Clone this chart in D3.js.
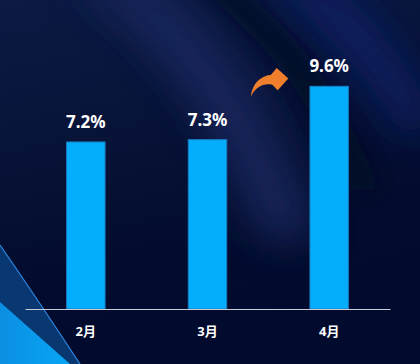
<!DOCTYPE html>
<html><head><meta charset="utf-8">
<script src="https://cdn.jsdelivr.net/npm/d3@7"></script>
<style>html,body{margin:0;padding:0;background:#040c2c;}svg{display:block;}</style>
</head><body><div id="chart"></div>
<script>
const categories = ["2月", "3月", "4月"];
const values = [7.2, 7.3, 9.6];
const valueLabels = ["7.2%", "7.3%", "9.6%"];

const W = 420, H = 364;
const svg = d3.select("#chart").append("svg").attr("width", W).attr("height", H);
const defs = svg.append("defs");

// background
const bg = defs.append("linearGradient").attr("id","bg").attr("x1","0").attr("y1","0").attr("x2","0.25").attr("y2","1");
bg.append("stop").attr("offset","0").attr("stop-color","#0c1a44");
bg.append("stop").attr("offset","0.45").attr("stop-color","#071236");
bg.append("stop").attr("offset","0.75").attr("stop-color","#030c2e");
bg.append("stop").attr("offset","1").attr("stop-color","#020b2d");
svg.append("rect").attr("width",W).attr("height",H).attr("fill","url(#bg)");

const blur = defs.append("filter").attr("id","blur").attr("x","-50%").attr("y","-50%").attr("width","200%").attr("height","200%");
blur.append("feGaussianBlur").attr("stdDeviation",20);
const blur2 = defs.append("filter").attr("id","blur2").attr("x","-50%").attr("y","-50%").attr("width","200%").attr("height","200%");
blur2.append("feGaussianBlur").attr("stdDeviation",9);

const deco = svg.append("g");
// light swoosh band
deco.append("path").attr("d","M70,-20 Q190,50 260,240 L320,240 Q250,40 140,-20 Z")
  .attr("fill","#1a2c64").attr("opacity",0.8).attr("filter","url(#blur)");
// dark band
deco.append("path").attr("d","M185,-20 Q290,50 350,190 L380,190 Q320,40 230,-20 Z")
  .attr("fill","#050a24").attr("opacity",0.7).attr("filter","url(#blur2)");
// top-right bright band
deco.append("path").attr("d","M260,-20 Q340,30 400,130 L440,130 Q380,10 320,-20 Z")
  .attr("fill","#10246e").attr("opacity",0.8).attr("filter","url(#blur)");

// bottom-left corner shapes
const cg = defs.append("linearGradient").attr("id","cg").attr("x1","0").attr("y1","0").attr("x2","1").attr("y2","0");
cg.append("stop").attr("offset","0").attr("stop-color","#0b8fe2");
cg.append("stop").attr("offset","1").attr("stop-color","#08a6f6");
svg.append("path").attr("d","M0,245 Q38,300 80,364 L0,364 Z").attr("fill","#0a3f7c").attr("opacity",0.85);
svg.append("path").attr("d","M0,302 L70,364 L0,364 Z").attr("fill","url(#cg)");
svg.append("path").attr("d","M0,245 Q38,300 80,364").attr("fill","none").attr("stroke","#2d86e0").attr("stroke-width",1.2);

// scales
const x = d3.scaleBand().domain(categories).range([25, 390]).paddingInner(0.684).paddingOuter(0.342);
const y = d3.scaleLinear().domain([0, 10]).range([309, 77]);

const font = "'Noto Sans','Noto Sans CJK SC',sans-serif";

svg.append("g").selectAll("rect").data(values).join("rect")
  .attr("x",(d,i)=>x(categories[i])).attr("width",x.bandwidth())
  .attr("y",d=>y(d)).attr("height",d=>y(0)-y(d))
  .attr("fill","#05aefc").attr("stroke","#1a7cc0").attr("stroke-width",1);

// axis
const axis = svg.append("g").attr("transform",`translate(0,${y(0)})`)
  .call(d3.axisBottom(x).tickSize(0).tickPadding(18));
axis.select(".domain").attr("stroke","#c9ccd6").attr("stroke-width",1.2);
axis.selectAll("text").attr("fill","#ffffff").attr("font-size",13).attr("font-weight","bold")
  .attr("font-family",font);

// value labels
svg.append("g").selectAll("text").data(values).join("text")
  .attr("x",(d,i)=>x(categories[i])+x.bandwidth()/2)
  .attr("y",d=>y(d)-14)
  .attr("text-anchor","middle").attr("fill","#ffffff")
  .attr("font-size",17).attr("font-weight","bold").attr("font-family",font)
  .text((d,i)=>valueLabels[i]);

// orange arrow
svg.append("path")
  .attr("d","M250.7,97 C252,84 260,76 271,74.7 L276.7,68 L288.3,78.5 L277.7,90.3 L272.3,84.7 C262,83 255,88 250.7,97 Z")
  .attr("fill","#ef7f2c");
</script></body></html>
